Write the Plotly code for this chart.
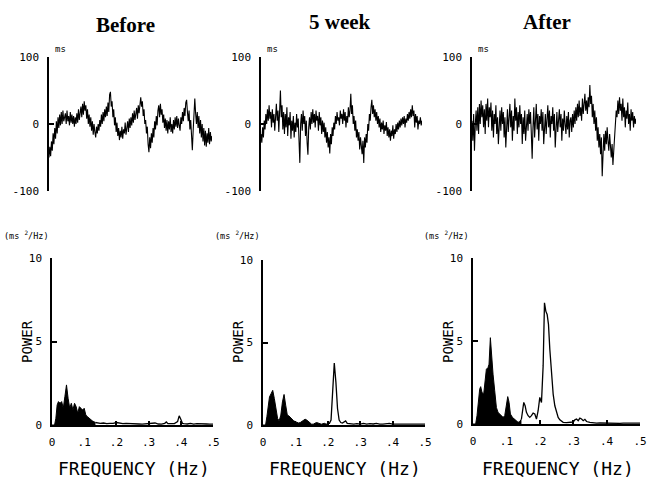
import plotly.graph_objects as go

W, H = 648, 488

# ---------------- data ----------------
panel_titles = ["Before", "5 week", "After"]

# R-R interval fluctuation (ms)
rr_before = [-50, -34, -48, -26, -40, -14, -30, -6, -22, 4,
             -14, 10, -6, 14, -2, 18, 0, 20, 4, 10,
             16, 0, 20, 4, 12, -2, 18, 2, 14, 0,
             12, -4, 10, 0, 16, 2, 22, 6, 18, 26,
             10, 30, 14, 34, 20, 28, 8, 22, 0, 14,
             -4, 10, -10, 4, -16, 0, -12, -20, -4, -14,
             0, -10, 6, -4, 14, 0, 18, 4, 22, 10,
             26, 12, 32, 18, 44, 48, 26, 34, 10, 22,
             -2, 10, -12, 2, -18, -6, -24, -10, -20, -4,
             -22, -8, -14, 2, -16, -4, 4, -12, 8, -6,
             10, -2, 16, 2, 20, 6, 14, 24, 8, 28,
             16, 32, 40, 26, 34, 12, 22, 0, 6, -14,
             -4, -30, -42, -20, -36, -14, -28, -6, -20, 4,
             -8, 12, -2, 20, 28, 10, 30, 14, 22, 2,
             14, -6, 8, -10, 6, -14, 4, -8, 10, -12,
             0, -14, 6, -8, 10, -4, 12, -6, 8, -2,
             -10, 10, 0, 18, 4, 24, 12, 32, 36, 18,
             4, 20, -8, 6, -22, -39, -10, 14, 38, 16,
             0, 18, -6, 12, -14, 6, -20, 0, -26, -6,
             -32, -10, -34, -14, -28, -6, -30, -12, -26, -18]

rr_5week = [-15, -28, -5, -20, 5, -8, 15, 0, 22, 5,
            28, 8, 18, -5, 22, 2, 15, -10, 10, 30,
            5, 20, -12, 35, 50, 10, 28, -8, 18, -15,
            15, -5, 25, -18, 10, -2, 18, -22, 5, -10,
            12, -20, 2, -12, 15, -5, 8, -25, -58, 0,
            15, -10, 20, 0, 12, -18, 5, -28, -46, -5,
            10, -8, 18, 0, 22, 2, 15, -5, 20, 5,
            12, -10, 18, -2, 10, -15, 5, -12, 2, -20,
            -5, -28, -12, -35, -20, -44, -15, -30, -5, -18,
            2, -8, 12, 0, 18, 5, 10, -2, 20, 8,
            15, 0, 22, 5, 18, -5, 12, 2, 25, 10,
            20, 45, 15, 28, 0, 12, -10, 5, -20, -8,
            -25, -12, -38, -20, -30, -45, -25, -58, -20, -35,
            -15, -28, 0, -10, 15, 5, 25, 36, 15, 28,
            10, 22, 5, 18, 0, 12, -5, 8, -12, 2,
            -8, 5, -15, -2, -10, 3, -18, -5, -20, -8,
            -25, -10, -18, -2, -22, -8, -15, 0, -12, 2,
            -8, 5, -5, 8, -2, 10, 0, 12, -5, 8,
            2, 15, 5, 18, 8, 22, 10, 28, 12, 20,
            -5, 15, 2, 12, -8, 5, 0, 10, -2, 5]

rr_after = [5, -25, 15, -40, 0, 20, -10, 25, -15, 30,
            0, 35, 10, 28, -5, 22, -15, 30, 5, 38,
            -5, 25, 10, 32, -10, 20, -20, 15, 0, 28,
            -15, 10, -30, 5, 20, -10, 25, 0, 18, -20,
            10, -35, 5, 22, -12, 15, 30, -5, 20, -25,
            12, -10, 38, 5, 25, -15, 18, -5, 28, 0,
            15, -30, 10, -15, 20, -25, -5, 15, -10, 22,
            0, 18, -15, -52, -5, 25, -20, 8, 30, -8,
            15, -25, 12, 0, 22, -10, 18, -30, 5, 15,
            -15, 10, 28, -5, 20, -20, 12, 0, 25, -10,
            15, -35, 5, 18, -12, 10, 22, -5, 15, -25,
            8, -10, 20, 0, -15, 12, -8, 18, -20, 5,
            10, -12, 15, -5, 20, 0, 25, 5, 30, 10,
            35, 12, 25, 5, 38, 15, 30, 45, 20, 35,
            15, 40, 25, 58, 30, 42, 10, 30, 0, 20,
            -10, 10, -25, -5, -35, -15, -45, -20, -78, -30,
            -15, -40, -10, -30, -5, -25, -40, -15, -35, -50,
            -30, -61, -40, -20, 5, 20, 10, 35, 15, 40,
            20, 30, 5, 38, 10, 25, -5, 20, 8, 32,
            0, 15, -10, 22, 5, 18, -5, 12, 0, 8]

# Power spectra (ms^2/Hz)
before_f = [0, 0.008, 0.012, 0.016, 0.02, 0.025, 0.03, 0.035, 0.04, 0.045,
            0.05, 0.055, 0.06, 0.065, 0.07, 0.075, 0.08, 0.085, 0.09, 0.095,
            0.1, 0.105, 0.11, 0.115, 0.12, 0.125, 0.13, 0.135,
            0.14, 0.15, 0.16, 0.17, 0.18, 0.19, 0.2, 0.21, 0.22, 0.23,
            0.24, 0.25, 0.26, 0.27, 0.28, 0.29, 0.3, 0.31, 0.32, 0.33,
            0.34, 0.35, 0.355, 0.36, 0.37, 0.38, 0.39, 0.395, 0.4, 0.405,
            0.41, 0.42, 0.43, 0.44, 0.45, 0.46, 0.47, 0.48, 0.49, 0.5]
before_p = [0, 0, 0.4, 1.2, 1.4, 1.3, 1.4, 1.0, 1.7, 2.4,
            1.6, 1.0, 1.3, 0.9, 1.3, 1.1, 0.7, 1.1, 1.0, 0.9,
            1.0, 0.6, 0.5, 0.4, 0.35, 0.25, 0.2, 0.15,
            0.12, 0.1, 0.12, 0.08, 0.1, 0.1, 0.15, 0.1, 0.08, 0.1,
            0.08, 0.06, 0.05, 0.06, 0.05, 0.06, 0.1, 0.08, 0.12, 0.06,
            0.05, 0.1, 0.18, 0.08, 0.06, 0.08, 0.2, 0.55, 0.35, 0.1,
            0.08, 0.06, 0.1, 0.05, 0.08, 0.06, 0.05, 0.06, 0.05, 0.05]
before_cut = 0.135

week5_f = [0, 0.008, 0.012, 0.016, 0.02, 0.025, 0.03, 0.035, 0.04, 0.045,
           0.05, 0.055, 0.06, 0.065, 0.07, 0.075, 0.08, 0.085, 0.09, 0.095,
           0.1, 0.105, 0.11, 0.115, 0.12, 0.125, 0.13, 0.135, 0.14, 0.145,
           0.15, 0.155, 0.16, 0.165, 0.17, 0.175, 0.18, 0.185, 0.19, 0.195, 0.2,
           0.205, 0.21, 0.215, 0.22, 0.225, 0.23, 0.235, 0.24, 0.245, 0.25,
           0.255, 0.26, 0.27, 0.28, 0.29, 0.3, 0.31, 0.32, 0.33, 0.34,
           0.35, 0.36, 0.37, 0.38, 0.39, 0.4, 0.41, 0.42, 0.43, 0.44,
           0.45, 0.46, 0.47, 0.48, 0.49, 0.5]
week5_p = [0, 0, 0.5, 1.3, 1.7, 1.9, 2.1, 1.6, 0.9, 0.4,
           0.25, 0.6, 1.4, 1.85, 1.2, 0.6, 0.55, 0.45, 0.3, 0.25,
           0.2, 0.15, 0.12, 0.15, 0.2, 0.3, 0.35, 0.3, 0.2, 0.1,
           0.05, 0.05, 0.1, 0.15, 0.12, 0.1, 0.05, 0.08, 0.1, 0.05, 0.1,
           0.1, 0.3, 2.0, 3.75, 2.6, 1.0, 0.3, 0.15, 0.12, 0.2,
           0.25, 0.1, 0.08, 0.05, 0.08, 0.05, 0.1, 0.05, 0.08, 0.06,
           0.1, 0.05, 0.05, 0.08, 0.1, 0.05, 0.05, 0.06, 0.05, 0.04,
           0.05, 0.04, 0.05, 0.04, 0.05, 0.05]
week5_cut = 0.2

after_f = [0, 0.008, 0.012, 0.016, 0.02, 0.023, 0.027, 0.032, 0.036, 0.04,
           0.045, 0.048, 0.052, 0.056, 0.06, 0.065, 0.07, 0.075, 0.08, 0.085,
           0.09, 0.095, 0.1, 0.104, 0.108, 0.112, 0.118, 0.124, 0.13, 0.135,
           0.14, 0.145,
           0.148, 0.152, 0.156, 0.16, 0.165, 0.17, 0.175, 0.18, 0.185, 0.19,
           0.195, 0.2, 0.205, 0.21, 0.214, 0.218, 0.222, 0.226, 0.23, 0.235,
           0.24, 0.245, 0.25, 0.255, 0.26, 0.27, 0.28, 0.29, 0.3, 0.305,
           0.31, 0.315, 0.32, 0.325, 0.33, 0.335, 0.34, 0.35, 0.36, 0.37,
           0.38, 0.39, 0.4, 0.41, 0.42, 0.43, 0.44, 0.45, 0.46, 0.47,
           0.48, 0.49, 0.5]
after_p = [0, 0, 0.5, 1.5, 2.1, 2.25, 1.9, 1.8, 2.6, 3.3,
           3.4, 3.6, 5.2, 4.0, 3.0, 2.0, 1.0, 0.7, 0.6, 0.5,
           0.4, 0.5, 1.2, 1.65, 1.3, 0.6, 0.4, 0.3, 0.2, 0.1,
           0.15, 0.3,
           0.9, 1.3, 1.1, 0.7, 0.5, 0.4, 0.5, 0.65, 0.6, 0.3,
           0.8, 1.6, 1.3, 3.5, 7.3, 6.8, 6.6, 6.0, 4.5, 3.0,
           1.8, 1.1, 0.7, 0.4, 0.25, 0.1, 0.08, 0.1, 0.12, 0.25,
           0.3, 0.2, 0.35, 0.3, 0.2, 0.28, 0.15, 0.1, 0.06, 0.05,
           0.06, 0.05, 0.08, 0.05, 0.06, 0.05, 0.04, 0.05, 0.04, 0.05,
           0.04, 0.05, 0.05]
after_cut = 0.145

freq_ticks = [0, 0.1, 0.2, 0.3, 0.4, 0.5]
freq_ticktext = ["0", ".1", ".2", ".3", ".4", ".5"]
rr_ticks = [-100, 0, 100]
rr_ticktext = ["-100", "0", "100"]
pow_ticks = [0, 5, 10]
pow_ticktext = ["0", "5", "10"]

# ---------------- layout geometry (pixels) ----------------
top_x = [(49, 212), (261, 422), (472, 636)]
top_y = (57, 191)
bot_x = [(52, 213), (263, 425), (473, 640)]
bot_y = [(258, 425), (260, 425), (258, 424)]
title_pos = [(125, 25), (340, 22), (547, 22)]

MONO = "DejaVu Sans Mono"


def px(x):
    return x / W


def py(y):
    return 1 - y / H


fig = go.Figure()
layout = {}
annotations = []

rr_all = [rr_before, rr_5week, rr_after]
spec_all = [(before_f, before_p, before_cut),
            (week5_f, week5_p, week5_cut),
            (after_f, after_p, after_cut)]


def ann(text, x, y, size, family=MONO, angle=0, xanchor="center"):
    annotations.append(dict(text=text, x=px(x), y=py(y), xref="paper",
                            yref="paper", showarrow=False, textangle=angle,
                            xanchor=xanchor, yanchor="middle",
                            font=dict(family=family, size=size, color="black")))


axis_common = dict(ticks="inside", tickwidth=1.5, tickcolor="black",
                   showline=True, linecolor="black", linewidth=1.5,
                   showgrid=False, zeroline=False, automargin=False,
                   tickfont=dict(family=MONO, size=11, color="black"))

for i in range(3):
    # ---- top: R-R trace ----
    k = i + 1
    sfx = str(k) if k > 1 else ""
    xa, ya = "x" + sfx, "y" + sfx
    rr = rr_all[i]
    fig.add_trace(go.Scatter(x=list(range(len(rr))), y=rr, mode="lines",
                             line=dict(color="black", width=1.1),
                             xaxis=xa, yaxis=ya, hoverinfo="skip"))
    layout["xaxis" + sfx] = dict(
        domain=[px(top_x[i][0]), px(top_x[i][1])], range=[0, len(rr) - 1],
        visible=False, anchor=ya, automargin=False)
    layout["yaxis" + sfx] = dict(
        domain=[py(top_y[1]), py(top_y[0])], range=[-100, 100], anchor=xa,
        tickvals=rr_ticks, ticktext=rr_ticktext, ticklen=5,
        ticklabelstandoff=6, **axis_common)

    # ---- bottom: spectrum ----
    k2 = i + 4
    xb, yb = f"x{k2}", f"y{k2}"
    f, p, cut = spec_all[i]
    f_fill = [fv for fv in f if fv <= cut]
    p_fill = p[:len(f_fill)]
    f_line = f[len(f_fill) - 1:]
    p_line = p[len(f_fill) - 1:]
    fig.add_trace(go.Scatter(x=f_fill, y=p_fill, mode="lines", fill="tozeroy",
                             fillcolor="black", line=dict(color="black", width=1),
                             xaxis=xb, yaxis=yb, hoverinfo="skip"))
    fig.add_trace(go.Scatter(x=f_line, y=p_line, mode="lines",
                             line=dict(color="black", width=1.3),
                             xaxis=xb, yaxis=yb, hoverinfo="skip"))
    layout[f"xaxis{k2}"] = dict(
        domain=[px(bot_x[i][0]), px(bot_x[i][1])], range=[0, 0.5], anchor=yb,
        tickvals=freq_ticks, ticktext=freq_ticktext, ticklen=4,
        ticklabelstandoff=6, **axis_common)
    layout[f"yaxis{k2}"] = dict(
        domain=[py(bot_y[i][1]), py(bot_y[i][0])], range=[0, 10], anchor=xb,
        tickvals=pow_ticks, ticktext=pow_ticktext, ticklen=5,
        ticklabelstandoff=6, **axis_common)

    # ---- annotations ----
    ann(f"<b>{panel_titles[i]}</b>", title_pos[i][0], title_pos[i][1], 21,
        family="Liberation Serif")
    ann("ms", top_x[i][0] + 4, 49, 9, xanchor="left")
    bx0, bx1 = bot_x[i]
    ann("(ms <sup>2</sup>/Hz)", bx0 - 26, 235, 8.5)
    ann("POWER", bx0 - 25, 342, 14, angle=-90)
    ann("FREQUENCY (Hz)", (bx0 + bx1) / 2 + 1, 468, 18)

fig.update_layout(**layout)
fig.update_layout(width=W, height=H, margin=dict(l=0, r=0, t=0, b=0, pad=0),
                  plot_bgcolor="white", paper_bgcolor="white",
                  showlegend=False, annotations=annotations)

fig.write_html("out.html", config={"displayModeBar": False},
               post_script="document.body.style.margin='0px';")
